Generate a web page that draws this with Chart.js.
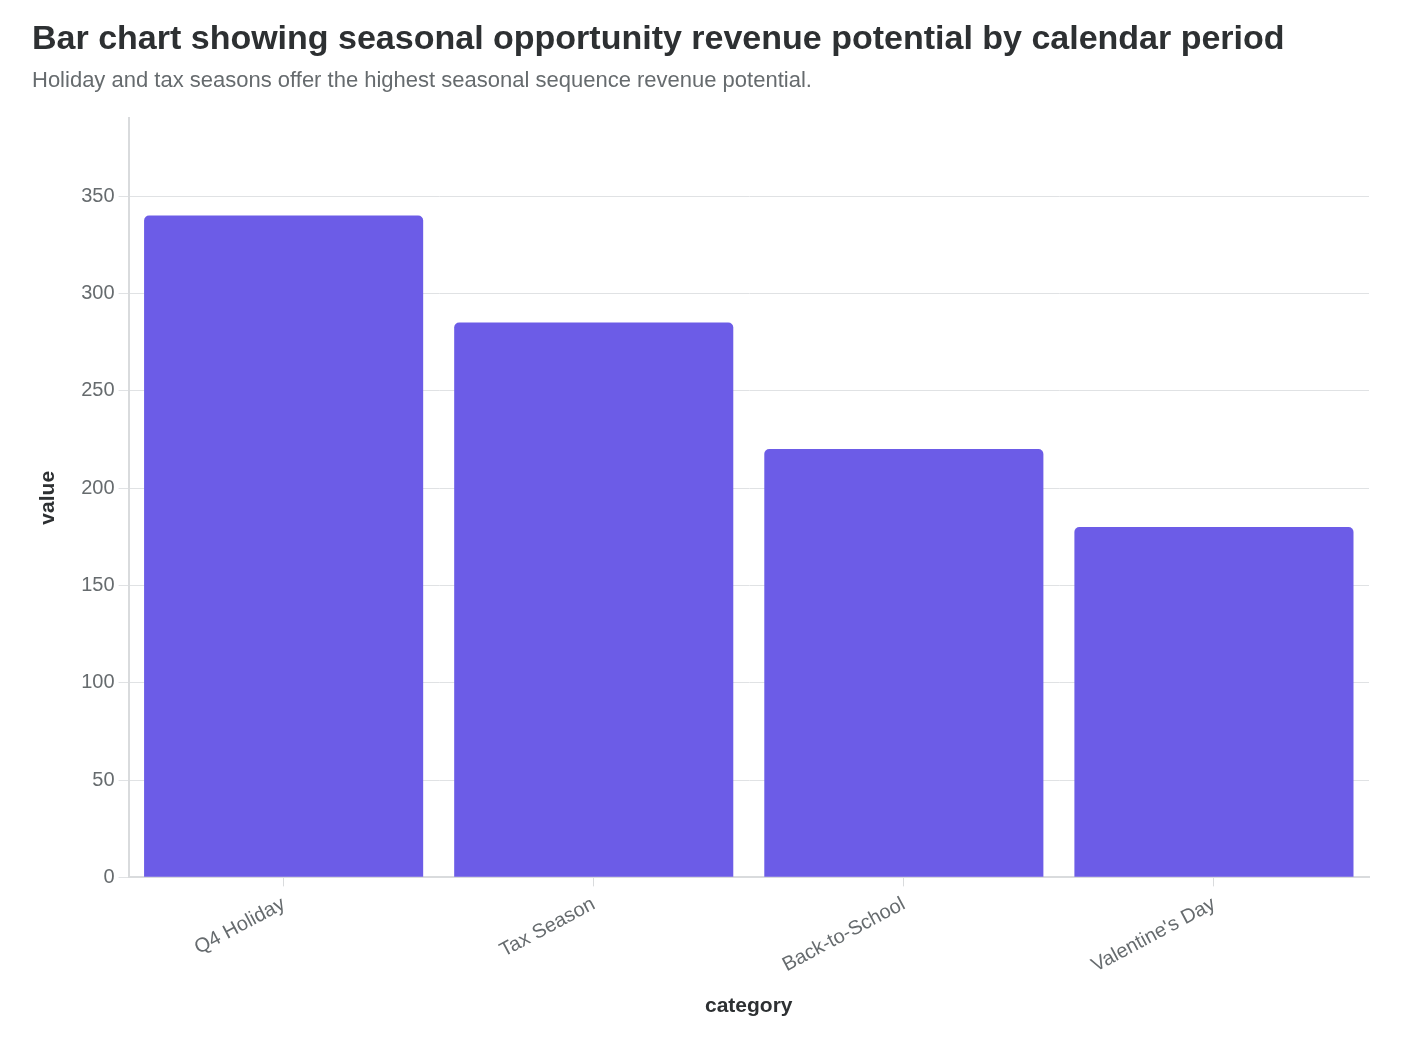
<!DOCTYPE html>
<html>
<head>
<meta charset="utf-8">
<script src="https://cdn.jsdelivr.net/npm/chart.js@4.4.1/dist/chart.umd.min.js"></script>
<style>
  html, body { margin: 0; padding: 0; background: #fff; }
  #wrap { width: 1418px; height: 1046px; }
</style>
</head>
<body>
<div id="wrap"><canvas id="myChart"></canvas></div>
<script>
const categories = ["Q4 Holiday", "Tax Season", "Back-to-School", "Valentine's Day"];
const values = [340, 285, 220, 180];
const tickValues = [0, 50, 100, 150, 200, 250, 300, 350];

Chart.defaults.font.family = "'Liberation Sans', Arial, Helvetica, sans-serif";

let ctx = document.getElementById("myChart").getContext("2d");
const myChart = new Chart(ctx, {
  type: "bar",
  data: {
    labels: categories,
    datasets: [
      {
        label: "value",
        data: values,
        backgroundColor: "#6c5ce7",
        borderRadius: { topLeft: 5, topRight: 5 },
        borderSkipped: "bottom",
        barPercentage: 1,
        categoryPercentage: 0.9,
      },
    ],
  },
  options: {
    responsive: true,
    maintainAspectRatio: false,
    animation: false,
    layout: { padding: { left: 32, right: 49, top: 0, bottom: 23 } },
    plugins: {
      legend: { display: false },
      tooltip: { enabled: false },
      title: {
        display: true,
        text: "Bar chart showing seasonal opportunity revenue potential by calendar period",
        align: "start",
        color: "#2d3032",
        font: { size: 34, weight: "bold" },
        padding: { top: 19, bottom: 8 },
      },
      subtitle: {
        display: true,
        text: "Holiday and tax seasons offer the highest seasonal sequence revenue potential.",
        align: "start",
        color: "#666b6e",
        font: { size: 22 },
        padding: { bottom: 24 },
      },
    },
    scales: {
      y: {
        min: 0,
        max: 390,
        afterBuildTicks: (axis) => {
          axis.ticks = tickValues.map((v) => ({ value: v }));
        },
        ticks: { color: "#666b6e", font: { size: 20 }, padding: 4 },
        grid: { color: "#e0e2e4", tickLength: 10 },
        border: { color: "#d9dbdd", width: 2 },
        title: {
          display: true,
          text: "value",
          color: "#2d3032",
          font: { size: 21, weight: "bold" },
          padding: { bottom: 16 },
        },
      },
      x: {
        ticks: { color: "#666b6e", font: { size: 20 }, minRotation: 28, maxRotation: 28, padding: 6 },
        grid: { offset: false, drawOnChartArea: false, color: "#d9dbdd", tickLength: 9 },
        border: { color: "#d9dbdd", width: 2 },
        title: {
          display: true,
          text: "category",
          color: "#2d3032",
          font: { size: 21, weight: "bold" },
          padding: { top: 10 },
        },
      },
    },
  },
});
</script>
</body>
</html>
